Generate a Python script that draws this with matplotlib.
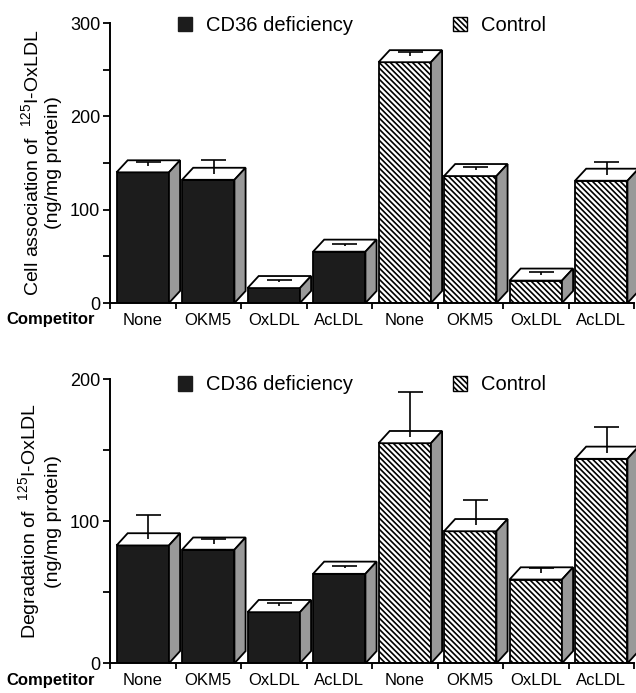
import matplotlib
matplotlib.use("Agg")
import matplotlib.pyplot as plt
from matplotlib.patches import Polygon, Patch
import numpy as np

plt.rcParams['font.family'] = ['Liberation Sans', 'DejaVu Sans']
plt.rcParams['mathtext.fontset'] = 'custom'
plt.rcParams['mathtext.rm'] = 'Liberation Sans'
plt.rcParams['hatch.linewidth'] = 1.2

competitors = ["None", "OKM5", "OxLDL", "AcLDL"]
groups = ["CD36 deficiency", "Control"]

# cell association (ng/mg protein)
assoc_cd36 = [140, 132, 16, 55]
assoc_cd36_err = [5, 15, 2, 2]
assoc_ctrl = [258, 136, 24, 131]
assoc_ctrl_err = [4, 3, 3, 14]

# degradation (ng/mg protein)
degr_cd36 = [83, 80, 36, 63]
degr_cd36_err = [17, 3, 2, 1]
degr_ctrl = [155, 93, 59, 144]
degr_ctrl_err = [32, 18, 4, 18]

BLACK = '#1c1c1c'
HATCH = '\\' * 6

fig = plt.figure(figsize=(6.36, 6.93), dpi=100)
ax1 = fig.add_axes([110/636, 1-303/693, 524/636, 280/693])
ax2 = fig.add_axes([110/636, 1-663.3/693, 524/636, 284/693])


def panel(ax, cd36, cd36_err, ctrl, ctrl_err, ymax, step, ylabel, legend_y):
    vals = cd36 + ctrl
    errs = cd36_err + ctrl_err
    x = np.arange(len(vals)) + 0.1
    w, dx, dy = 0.8, 0.17, 0.043 * ymax
    faces = [BLACK] * 4 + ['white'] * 4
    bars = ax.bar(x, vals, width=w, align='edge', color=faces,
                  edgecolor='black', linewidth=1.3, zorder=2)
    for i, (b, v, e) in enumerate(zip(bars, vals, errs)):
        if i >= 4:
            b.set_hatch(HATCH)
        x0 = b.get_x()
        x1 = x0 + b.get_width()
        top = Polygon([(x0, v), (x0 + dx, v + dy), (x1 + dx, v + dy), (x1, v)],
                      closed=True, fc='white', ec='black', lw=1.3, zorder=2,
                      clip_on=False)
        side = Polygon([(x1, 0), (x1 + dx, dy), (x1 + dx, v + dy), (x1, v)],
                       closed=True, fc='0.6', ec='black', lw=1.3, zorder=2,
                       clip_on=False)
        ax.add_patch(top)
        ax.add_patch(side)
        # error bar rises from the middle of the top face
        cx = x0 + w / 2 + dx / 2
        ax.vlines(cx, v + dy / 2, v + dy / 2 + e, color='black', lw=1.2, zorder=3)
        ax.hlines(v + dy / 2 + e, cx - 0.19, cx + 0.19, color='black', lw=1.2, zorder=3)

    ax.set_xlim(0, 8)
    ax.set_ylim(0, ymax)
    for s in ['top', 'right']:
        ax.spines[s].set_visible(False)
    for s in ['left', 'bottom']:
        ax.spines[s].set_linewidth(1.4)
        ax.spines[s].set_zorder(4)

    ax.set_xticks(np.arange(9))
    ax.set_xticklabels([])
    ax.set_xticks(np.arange(8) + 0.5, minor=True)
    ax.set_xticklabels(competitors * 2, minor=True, fontsize=12)
    ax.tick_params(axis='x', which='major', length=4, width=1.3)
    ax.tick_params(axis='x', which='minor', length=0, pad=7)

    ax.set_yticks(np.arange(0, ymax + 1, step))
    ax.set_yticks(np.arange(step / 2, ymax, step), minor=True)
    ax.tick_params(axis='y', which='major', length=5, width=1.3, labelsize=13, pad=2)
    ax.tick_params(axis='y', which='minor', length=5, width=1.3)

    ax.set_ylabel(ylabel, fontsize=14, labelpad=6)
    ax.text(-0.9, -0.06, "Competitor", transform=ax.get_xaxis_transform(),
            ha='center', va='center', fontsize=12, fontweight='bold')

    handles = [Patch(fc=BLACK, ec=BLACK),
               Patch(fc='white', ec='black', hatch=HATCH)]
    ax.legend(handles, groups, ncol=2, frameon=False, fontsize=14.5,
              loc='center left', bbox_to_anchor=(178/636, legend_y),
              bbox_transform=fig.transFigure, borderpad=0, borderaxespad=0,
              handlelength=0.7, handleheight=0.7, handletextpad=0.7,
              columnspacing=4.95)


panel(ax1, assoc_cd36, assoc_cd36_err, assoc_ctrl, assoc_ctrl_err, 300, 100,
      "Cell association of  $\\mathregular{^{125}}$I-OxLDL\n(ng/mg protein)",
      1 - 25.5/693)
panel(ax2, degr_cd36, degr_cd36_err, degr_ctrl, degr_ctrl_err, 200, 100,
      "Degradation of  $\\mathregular{^{125}}$I-OxLDL\n(ng/mg protein)",
      1 - 385/693)

fig.savefig("out.png", dpi=100)
